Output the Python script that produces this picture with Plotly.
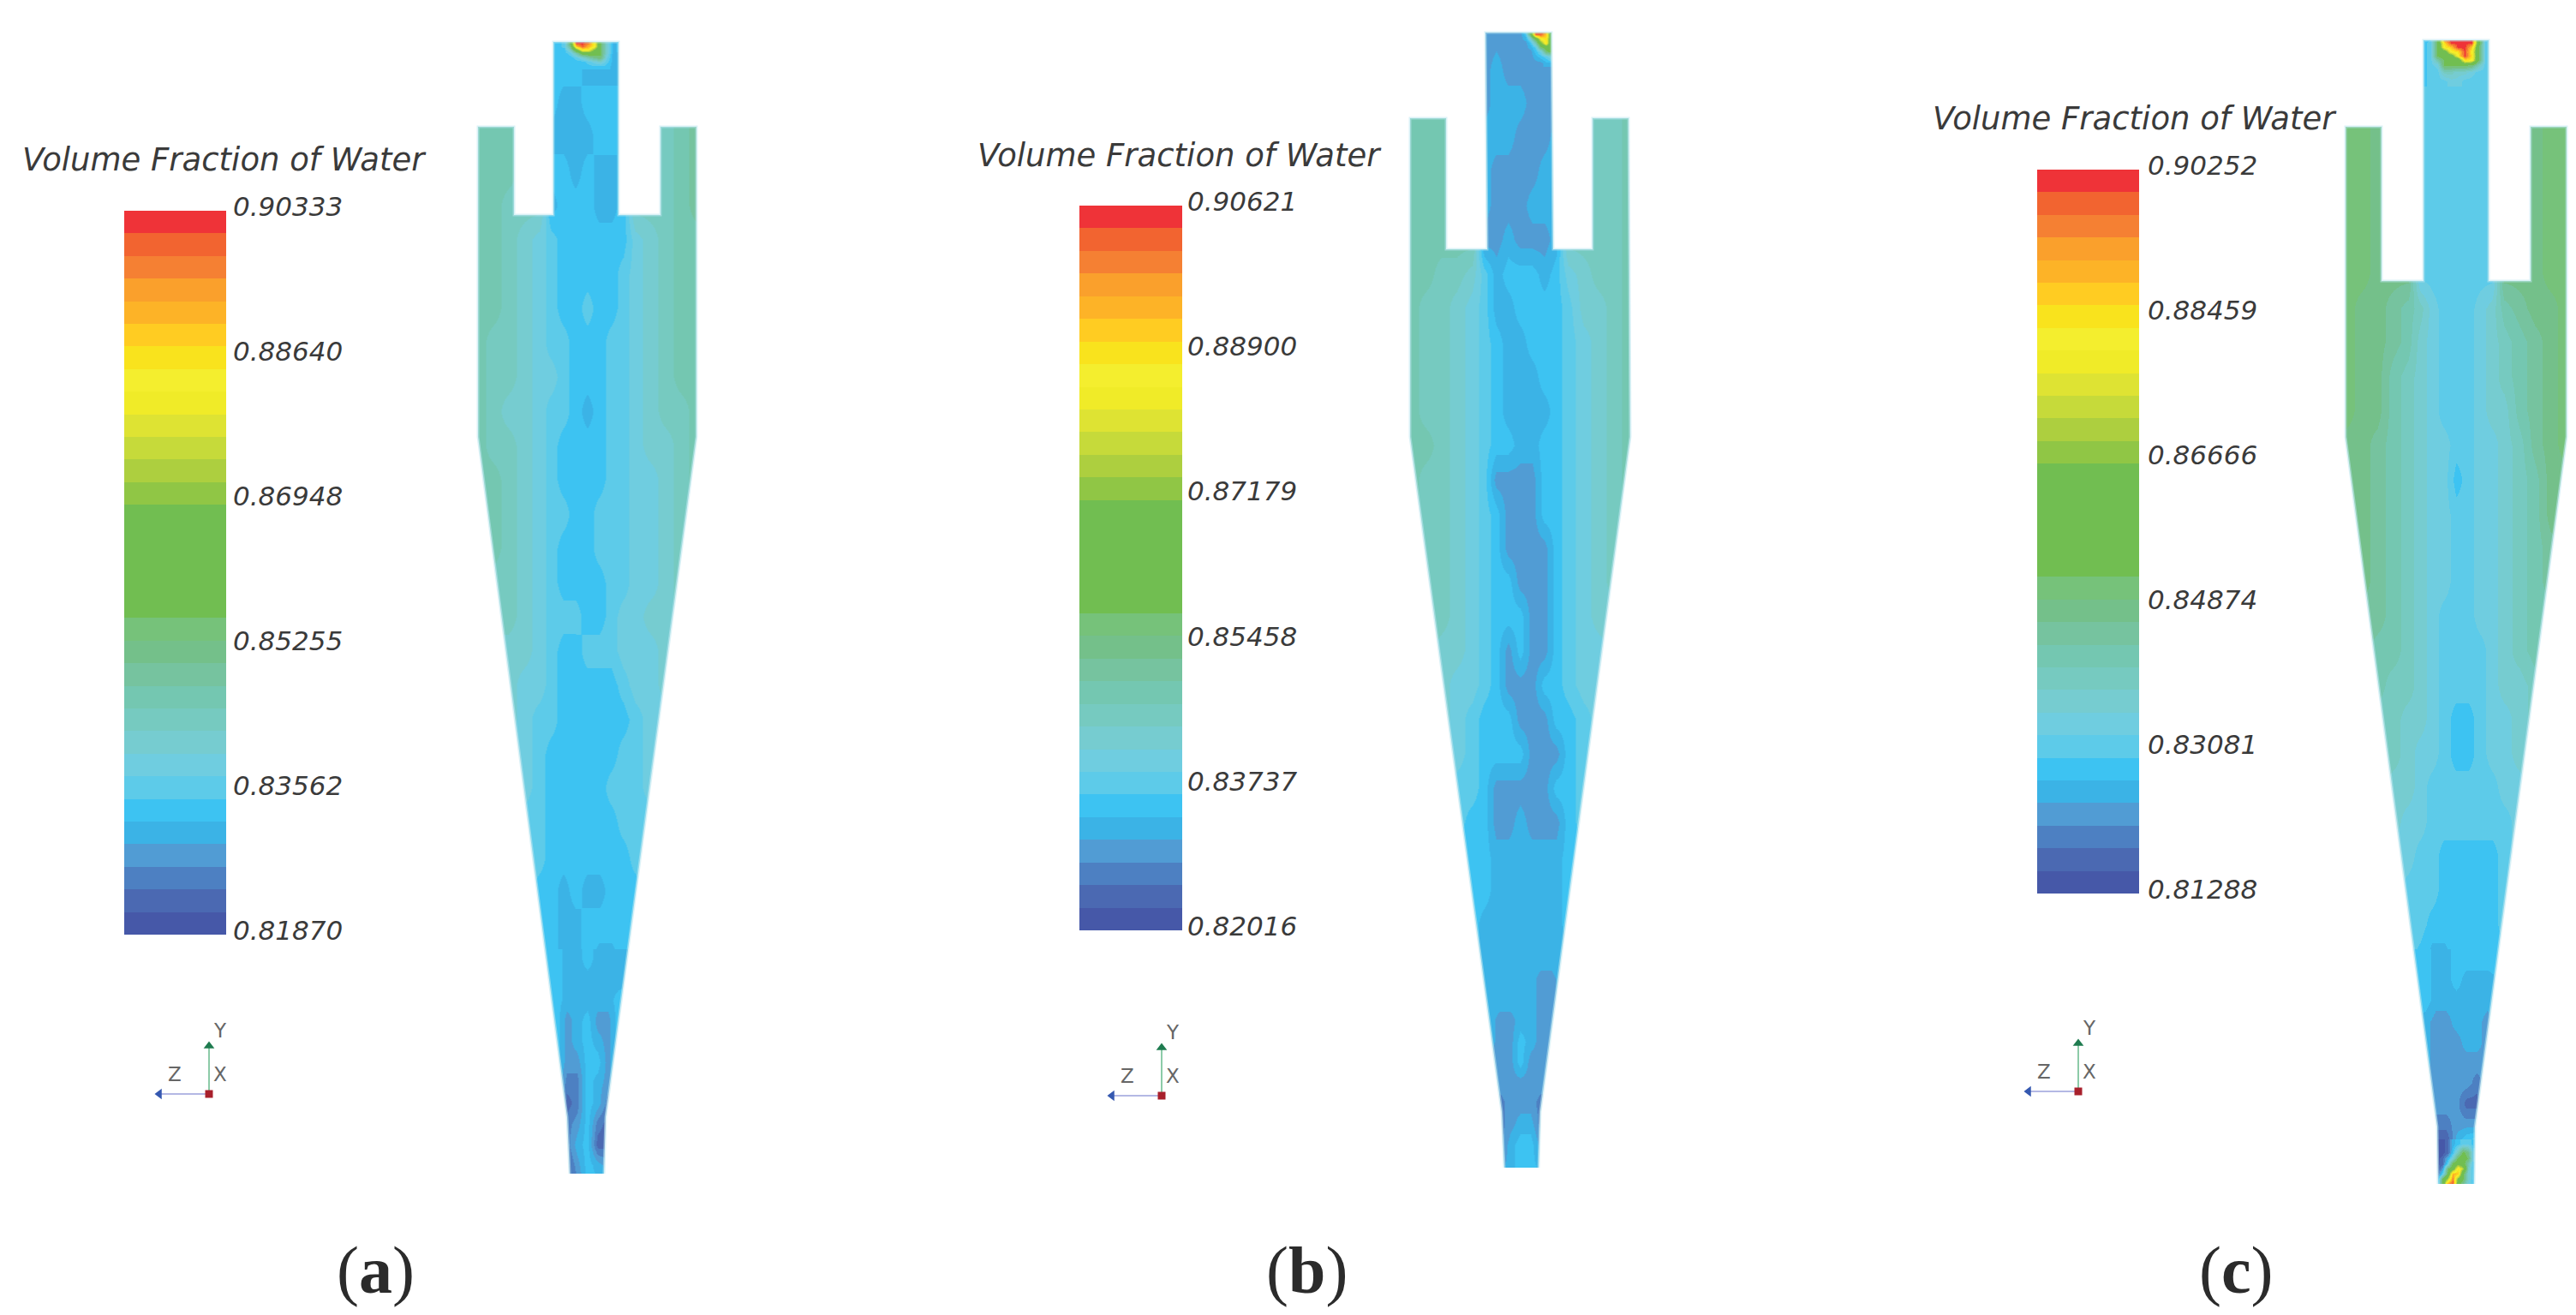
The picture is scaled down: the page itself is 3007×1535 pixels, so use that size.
import numpy as np
import plotly.graph_objects as go

W, H = 3007, 1535
N_BANDS = 32

BAND_COLORS = ["#4658A8", "#4B69B2", "#4D80C2", "#519CD4", "#3BB3E6", "#3DC3F2", "#5DCBE9", "#6FCDE0",
               "#76CCD0", "#76CAC0", "#74C7B1", "#76C39F", "#74C08A", "#76C27A", "#71BE51", "#71BE51",
               "#71BE51", "#71BE51", "#71BE51", "#90C645", "#ADCF3F", "#C6DA3A", "#DEE333", "#F0EB28",
               "#F4EE2E", "#F9E31D", "#FFCC22", "#FDB327", "#FAA02C", "#F58033", "#F26430", "#EF3338"]

TICKS_A = ["0.90333", "0.88640", "0.86948", "0.85255", "0.83562", "0.81870"]
TICKS_B = ["0.90621", "0.88900", "0.87179", "0.85458", "0.83737", "0.82016"]
TICKS_C = ["0.90252", "0.88459", "0.86666", "0.84874", "0.83081", "0.81288"]

COL_OFFSETS = [-128, -110, -92, -74, -56, -42, -28, -14, 0, 14, 28, 42, 56, 74, 92, 110, 128]
ROW_Y = [40, 80, 120, 160, 200, 240, 280, 320, 360, 400, 440, 480, 520, 560, 600, 640, 680, 720, 760, 800,
         840, 880, 920, 960, 1000, 1040, 1080, 1120]

# Contour band (0 = lowest, 31 = highest)
FIELD_A = [
    [10, 10, 10, 10, 10, 5, 5, 5, 5, 5, 5, 5, 9, 9, 9, 10, 11],
    [10, 10, 10, 10, 10, 5, 5, 5, 4, 4, 4, 4, 9, 9, 9, 10, 11],
    [10, 10, 10, 10, 10, 5, 4, 4, 5, 5, 5, 5, 9, 9, 9, 10, 11],
    [10, 10, 10, 10, 10, 4, 4, 4, 4, 5, 5, 4, 9, 9, 9, 10, 11],
    [10, 10, 10, 9, 9, 5, 5, 4, 5, 4, 4, 5, 9, 9, 9, 10, 11],
    [10, 10, 9, 9, 9, 4, 5, 5, 5, 4, 4, 5, 9, 9, 9, 10, 11],
    [10, 10, 9, 8, 7, 6, 5, 5, 5, 5, 5, 5, 7, 8, 9, 10, 10],
    [10, 10, 9, 8, 7, 6, 5, 5, 5, 5, 5, 6, 7, 8, 9, 10, 10],
    [10, 10, 9, 8, 7, 6, 5, 5, 6, 5, 5, 6, 7, 8, 9, 10, 10],
    [10, 9, 9, 8, 7, 6, 6, 5, 5, 5, 6, 6, 7, 8, 9, 10, 10],
    [10, 9, 9, 8, 7, 7, 6, 5, 5, 5, 6, 6, 7, 8, 9, 10, 10],
    [10, 9, 8, 8, 7, 6, 6, 5, 4, 5, 6, 6, 7, 8, 9, 9, 10],
    [10, 9, 9, 8, 7, 6, 5, 5, 5, 5, 6, 6, 7, 8, 8, 9, 10],
    [10, 10, 9, 8, 7, 6, 5, 5, 5, 5, 6, 6, 7, 7, 8, 9, 10],
    [10, 10, 9, 8, 7, 6, 6, 5, 5, 6, 6, 6, 7, 7, 8, 9, 10],
    [10, 10, 9, 8, 7, 6, 5, 5, 5, 6, 6, 6, 7, 7, 8, 9, 9],
    [9, 9, 9, 8, 7, 6, 5, 5, 5, 5, 6, 6, 7, 7, 8, 9, 9],
    [9, 9, 9, 8, 7, 6, 6, 6, 5, 5, 6, 7, 7, 8, 8, 9, 9],
    [8, 8, 8, 8, 7, 6, 5, 5, 6, 6, 6, 7, 7, 7, 8, 8, 8],
    [8, 8, 8, 7, 7, 6, 5, 5, 5, 5, 5, 6, 7, 7, 8, 8, 8],
    [8, 8, 8, 7, 6, 6, 5, 5, 5, 5, 5, 5, 6, 7, 7, 8, 8],
    [7, 7, 7, 7, 6, 5, 5, 5, 5, 5, 5, 6, 6, 7, 7, 7, 7],
    [7, 7, 7, 7, 6, 5, 5, 5, 5, 5, 6, 6, 6, 7, 7, 7, 7],
    [7, 7, 7, 6, 6, 5, 5, 5, 5, 5, 5, 6, 6, 6, 7, 7, 7],
    [6, 6, 6, 6, 6, 5, 5, 5, 5, 5, 5, 5, 6, 6, 6, 6, 6],
    [6, 6, 6, 6, 5, 5, 4, 5, 4, 4, 5, 5, 5, 6, 6, 6, 6],
    [5, 5, 5, 5, 5, 5, 4, 4, 5, 5, 5, 5, 5, 5, 5, 5, 5],
    [5, 5, 5, 5, 5, 5, 4, 4, 5, 4, 4, 5, 5, 5, 5, 5, 5],
]
FIELD_B = [
    [10, 10, 10, 10, 10, 3, 3, 3, 3, 3, 3, 3, 9, 9, 9, 9, 10],
    [10, 10, 10, 10, 10, 3, 4, 3, 3, 3, 3, 3, 9, 9, 9, 9, 10],
    [10, 10, 10, 10, 10, 3, 4, 4, 4, 3, 3, 3, 9, 9, 9, 9, 10],
    [10, 10, 10, 10, 10, 4, 4, 4, 3, 3, 3, 4, 9, 9, 9, 9, 10],
    [10, 10, 10, 10, 10, 4, 3, 3, 3, 3, 4, 4, 9, 9, 9, 9, 10],
    [10, 10, 10, 10, 10, 4, 3, 3, 3, 4, 4, 4, 9, 9, 9, 9, 10],
    [10, 10, 10, 10, 10, 3, 3, 4, 3, 3, 3, 4, 9, 9, 9, 9, 10],
    [10, 10, 9, 9, 8, 6, 4, 5, 5, 5, 4, 5, 7, 8, 9, 9, 10],
    [10, 9, 9, 8, 7, 6, 4, 4, 5, 5, 5, 5, 6, 8, 8, 9, 10],
    [10, 9, 9, 8, 7, 6, 5, 4, 4, 5, 5, 5, 6, 7, 8, 9, 10],
    [10, 9, 9, 8, 7, 6, 5, 4, 4, 4, 5, 5, 6, 7, 8, 9, 10],
    [10, 9, 9, 8, 7, 6, 5, 4, 4, 4, 4, 5, 6, 7, 8, 9, 10],
    [10, 10, 9, 8, 7, 6, 5, 5, 4, 4, 5, 5, 6, 7, 8, 9, 10],
    [10, 9, 9, 8, 7, 6, 3, 3, 3, 3, 5, 5, 6, 7, 8, 9, 10],
    [10, 9, 9, 8, 7, 6, 5, 3, 3, 3, 5, 5, 6, 7, 8, 9, 10],
    [10, 9, 9, 8, 7, 6, 5, 3, 3, 3, 3, 5, 6, 7, 8, 9, 10],
    [10, 9, 9, 8, 7, 6, 5, 5, 3, 3, 3, 5, 6, 7, 8, 9, 9],
    [9, 9, 9, 8, 7, 6, 5, 5, 5, 3, 3, 5, 6, 7, 8, 8, 9],
    [9, 9, 8, 8, 7, 6, 5, 3, 5, 3, 3, 5, 6, 7, 7, 8, 9],
    [8, 8, 8, 7, 7, 6, 5, 3, 3, 3, 5, 5, 6, 7, 7, 8, 8],
    [8, 8, 8, 7, 6, 5, 5, 5, 3, 3, 3, 5, 5, 6, 7, 8, 8],
    [7, 7, 7, 7, 6, 5, 5, 5, 5, 3, 3, 3, 5, 6, 7, 7, 7],
    [7, 7, 7, 6, 6, 5, 3, 3, 3, 3, 3, 5, 5, 6, 6, 7, 7],
    [6, 6, 6, 6, 5, 5, 3, 3, 4, 3, 3, 3, 5, 6, 6, 6, 6],
    [6, 6, 6, 5, 5, 5, 4, 4, 4, 4, 4, 4, 5, 5, 6, 6, 6],
    [6, 6, 5, 5, 5, 5, 4, 4, 4, 4, 4, 4, 5, 5, 6, 6, 6],
    [5, 5, 5, 5, 5, 4, 4, 4, 4, 4, 4, 4, 5, 5, 5, 5, 5],
    [5, 5, 5, 5, 5, 4, 4, 4, 4, 4, 4, 4, 4, 5, 5, 5, 5],
]
FIELD_C = [
    [13, 13, 12, 12, 12, 5, 6, 6, 6, 6, 6, 6, 11, 11, 12, 13, 13],
    [13, 13, 12, 12, 12, 5, 6, 6, 6, 6, 6, 6, 11, 11, 12, 13, 13],
    [13, 13, 12, 12, 12, 6, 6, 6, 6, 6, 6, 6, 11, 11, 12, 13, 13],
    [13, 13, 12, 12, 12, 6, 6, 6, 6, 6, 6, 6, 11, 11, 12, 13, 13],
    [13, 13, 12, 12, 12, 6, 6, 6, 6, 6, 6, 6, 11, 11, 12, 13, 13],
    [13, 13, 12, 12, 12, 6, 6, 6, 6, 6, 6, 6, 11, 11, 12, 13, 13],
    [13, 13, 12, 12, 12, 6, 6, 6, 6, 6, 6, 6, 11, 11, 12, 13, 13],
    [13, 13, 12, 12, 12, 6, 6, 6, 6, 6, 6, 6, 12, 12, 12, 13, 13],
    [13, 12, 12, 11, 10, 9, 7, 6, 6, 6, 7, 8, 10, 11, 12, 12, 13],
    [13, 12, 12, 11, 10, 8, 7, 6, 6, 6, 7, 8, 9, 10, 11, 12, 13],
    [13, 12, 12, 10, 9, 8, 7, 6, 6, 6, 7, 8, 9, 10, 11, 12, 13],
    [13, 12, 12, 10, 9, 8, 7, 6, 6, 6, 7, 8, 8, 10, 11, 12, 13],
    [12, 12, 11, 10, 9, 8, 7, 7, 6, 6, 7, 7, 8, 9, 11, 12, 13],
    [12, 12, 11, 10, 9, 8, 7, 7, 5, 6, 7, 7, 8, 9, 10, 12, 12],
    [12, 12, 11, 10, 9, 8, 7, 7, 6, 6, 7, 7, 8, 9, 10, 12, 12],
    [12, 12, 11, 10, 9, 8, 7, 7, 6, 6, 7, 7, 8, 9, 10, 11, 12],
    [12, 12, 11, 10, 9, 8, 7, 7, 6, 6, 7, 7, 8, 9, 10, 11, 11],
    [11, 11, 11, 10, 9, 8, 7, 6, 6, 6, 7, 7, 8, 9, 10, 10, 11],
    [11, 11, 10, 10, 9, 8, 7, 6, 6, 6, 6, 7, 8, 9, 10, 10, 10],
    [10, 10, 10, 9, 9, 8, 7, 6, 6, 6, 6, 7, 8, 8, 9, 10, 10],
    [10, 10, 9, 9, 8, 8, 7, 6, 5, 5, 6, 7, 7, 8, 9, 9, 9],
    [9, 9, 9, 9, 8, 7, 7, 6, 5, 5, 6, 7, 7, 8, 8, 9, 9],
    [9, 9, 9, 8, 8, 7, 6, 6, 6, 6, 6, 6, 7, 7, 8, 8, 8],
    [8, 8, 8, 8, 7, 7, 6, 6, 6, 6, 6, 6, 6, 7, 7, 8, 8],
    [8, 8, 7, 7, 7, 6, 6, 5, 5, 5, 5, 5, 6, 7, 7, 7, 7],
    [7, 7, 7, 7, 6, 6, 6, 5, 5, 5, 5, 5, 6, 6, 7, 7, 7],
    [6, 6, 6, 6, 6, 6, 5, 5, 5, 5, 5, 5, 6, 6, 6, 6, 6],
    [6, 6, 6, 6, 6, 5, 4, 4, 5, 5, 5, 5, 5, 6, 6, 6, 6],
]

# Finer samples for the cone tip of each cyclone
TIP_OFFSETS = [-60, -36, -24, -12, 0, 12, 24, 36, 60]
TIP_Y = [1120, 1144, 1168, 1192, 1216, 1240, 1264, 1288, 1312, 1336, 1360, 1390]
TIP_A = [
    [5, 5, 4, 4, 5, 4, 4, 4, 5], [5, 5, 4, 4, 4, 4, 4, 4, 5], [5, 5, 4, 4, 4, 4, 4, 5, 5],
    [5, 5, 3, 4, 5, 3, 3, 5, 5], [5, 5, 3, 4, 5, 4, 3, 5, 5], [5, 5, 3, 3, 5, 5, 3, 5, 5],
    [5, 5, 2, 2, 5, 4, 3, 5, 5], [5, 5, 1, 2, 5, 4, 2, 5, 5], [5, 5, 2, 3, 5, 2, 1, 5, 5],
    [5, 4, 2, 4, 5, 1, 1, 4, 5], [5, 4, 1, 3, 5, 4, 3, 4, 5], [5, 4, 1, 2, 5, 5, 4, 4, 5],
]
TIP_B = [
    [5, 4, 4, 4, 4, 4, 4, 4, 5], [5, 4, 4, 4, 4, 4, 3, 3, 5], [5, 4, 4, 4, 4, 4, 3, 3, 5],
    [4, 4, 3, 3, 4, 4, 3, 3, 4], [4, 4, 3, 3, 5, 4, 3, 3, 4], [4, 3, 3, 3, 5, 3, 3, 3, 4],
    [3, 3, 3, 3, 3, 3, 3, 3, 3], [2, 2, 2, 3, 3, 3, 2, 2, 2], [1, 1, 2, 3, 4, 4, 2, 1, 1],
    [1, 1, 2, 4, 5, 5, 3, 2, 1], [1, 1, 3, 4, 5, 5, 4, 2, 1], [1, 1, 3, 4, 5, 5, 4, 2, 1],
]
TIP_C = [
    [5, 5, 4, 4, 5, 5, 5, 5, 5], [5, 5, 4, 4, 5, 4, 4, 4, 5], [5, 5, 4, 4, 4, 4, 4, 4, 5],
    [5, 4, 3, 3, 4, 4, 4, 3, 4], [5, 4, 3, 3, 3, 4, 4, 3, 4], [4, 4, 3, 3, 3, 3, 3, 3, 4],
    [3, 3, 3, 3, 3, 3, 2, 3, 3], [3, 3, 3, 3, 3, 1, 1, 3, 3], [2, 2, 2, 2, 3, 3, 3, 2, 2],
    [2, 2, 0, 0, 4, 6, 7, 4, 3], [2, 2, 1, 1, 5, 6, 6, 4, 3], [2, 2, 1, 1, 5, 6, 6, 4, 3],
]

# Hot spots
HOT_A_X = [-35, -27, -20, -13, -6, 1, 8, 15, 22, 30]
HOT_A_Y = [46, 50, 54, 58, 62, 67, 72, 78]
HOT_A = [
    [5, 6, 14, 31, 31, 31, 26, 14, 8, 5], [5, 6, 14, 31, 31, 29, 24, 14, 8, 4],
    [5, 6, 12, 26, 30, 27, 24, 14, 8, 4], [5, 5, 9, 17, 24, 24, 18, 14, 8, 4],
    [5, 5, 6, 10, 15, 16, 15, 14, 8, 4], [5, 5, 5, 6, 8, 10, 12, 13, 7, 4],
    [5, 5, 5, 5, 5, 6, 7, 8, 6, 4], [5, 5, 5, 5, 5, 5, 5, 5, 5, 4],
]
HOT_B_X = [0, 6, 12, 18, 24, 30, 36, 42]
HOT_B_Y = [34, 40, 45, 50, 55, 60, 66, 74]
HOT_B = [
    [3, 8, 18, 31, 31, 28, 14, 14], [3, 5, 14, 30, 30, 26, 14, 14], [3, 4, 8, 15, 24, 25, 14, 14],
    [3, 3, 5, 10, 18, 25, 14, 14], [3, 3, 4, 6, 13, 15, 14, 14], [3, 3, 3, 5, 7, 13, 14, 14],
    [3, 3, 3, 4, 5, 6, 8, 8], [3, 3, 3, 3, 3, 4, 4, 4],
]
HOT_C_X = [-38, -30, -22, -14, -6, 2, 10, 18, 26, 34]
HOT_C_Y = [44, 50, 55, 60, 65, 70, 76, 84, 95]
HOT_C = [
    [5, 5, 14, 31, 31, 31, 31, 31, 16, 6], [5, 6, 14, 25, 31, 31, 31, 31, 15, 6],
    [5, 6, 14, 24, 26, 31, 31, 26, 14, 6], [5, 6, 14, 16, 24, 25, 31, 24, 14, 6],
    [5, 6, 14, 15, 16, 24, 31, 25, 14, 6], [5, 6, 10, 14, 14, 14, 25, 24, 14, 6],
    [5, 6, 7, 14, 14, 14, 14, 13, 9, 6], [5, 6, 6, 9, 9, 8, 8, 7, 6, 6],
    [5, 6, 6, 6, 7, 7, 6, 6, 6, 6],
]
HOT_C2_X = [-22, -16, -10, -4, 2, 8, 14, 20]
HOT_C2_Y = [1335, 1345, 1352, 1358, 1364, 1370, 1376, 1384]
HOT_C2 = [
    [0, 0, 1, 4, 5, 6, 6, 5], [0, 0, 1, 5, 9, 14, 12, 6], [0, 1, 4, 8, 14, 16, 13, 6],
    [0, 1, 6, 14, 17, 15, 10, 5], [0, 3, 13, 16, 25, 20, 9, 5], [1, 6, 14, 27, 26, 14, 8, 5],
    [3, 14, 20, 29, 18, 14, 8, 5], [5, 14, 31, 31, 14, 10, 7, 5],
]

# Cyclone outlines: one side each, from the top of the vortex finder to the apex
LEFT_A = [(646, 49), (646, 251), (600, 251), (600, 148), (558, 148), (558, 510), (662, 1304), (665, 1370)]
RIGHT_A = [(722, 49), (722, 251), (771, 251), (771, 148), (813, 148), (813, 510), (707, 1304), (705, 1370)]
LEFT_B = [(1734, 38), (1736, 291), (1688, 291), (1688, 138), (1646, 138), (1646, 510), (1753, 1298), (1756, 1363)]
RIGHT_B = [(1811, 38), (1813, 291), (1859, 291), (1859, 138), (1901, 138), (1903, 510), (1798, 1298), (1796, 1363)]
LEFT_C = [(2829, 47), (2829, 328), (2780, 328), (2780, 148), (2738, 148), (2738, 510), (2845, 1315), (2846, 1382)]
RIGHT_C = [(2905, 47), (2905, 328), (2954, 328), (2954, 148), (2996, 148), (2996, 510), (2889, 1315), (2888, 1382)]

CENTERS = [685.5, 1774.5, 2867]
VALUE_MIN = [0.81870, 0.82016, 0.81288]
VALUE_MAX = [0.90333, 0.90621, 0.90252]
BAR_X = [(145, 264), (1260, 1380), (2378, 2497)]
BAR_Y = [(246, 1091), (240, 1086), (198, 1043)]
TICK_X = [270, 1384, 2505]
TITLE_X = [262, 1377, 2492]
TITLE_Y = [186, 181, 138]
TRIAD_X = [244, 1356, 2426]
TRIAD_Y = [1277, 1279, 1274]
CAPTION_X = [438, 1525, 2610]
CAPTION_Y = 1482
CAPTIONS = ["a", "b", "c"]

GROUPS = [
    (FIELD_A, TIP_A, [(HOT_A_X, HOT_A_Y, HOT_A)], LEFT_A, RIGHT_A, TICKS_A),
    (FIELD_B, TIP_B, [(HOT_B_X, HOT_B_Y, HOT_B)], LEFT_B, RIGHT_B, TICKS_B),
    (FIELD_C, TIP_C, [(HOT_C_X, HOT_C_Y, HOT_C), (HOT_C2_X, HOT_C2_Y, HOT_C2)], LEFT_C, RIGHT_C, TICKS_C),
]

stops = []
for i, col in enumerate(BAND_COLORS):
    stops += [[i / N_BANDS, col], [(i + 1) / N_BANDS, col]]

fig = go.Figure()
layout_extra = {}
annotations = []
TEXT_COLOR = "#3a3a3a"
TICK_FONT = dict(family="DejaVu Sans", size=31, color=TEXT_COLOR, style="italic")
TITLE_FONT = dict(family="DejaVu Sans", size=37, color=TEXT_COLOR, style="italic")


def to_value(bands, lo, hi):
    return lo + (np.asarray(bands, dtype=float) + 0.5) * (hi - lo) / N_BANDS


for p, (field, tip, hots, left, right, ticks) in enumerate(GROUPS):
    cx, lo, hi = CENTERS[p], VALUE_MIN[p], VALUE_MAX[p]
    axis = "coloraxis" if p == 0 else f"coloraxis{p + 1}"
    xa, xb = BAR_X[p]
    ya, yb = BAR_Y[p]
    layout_extra[axis] = dict(
        cmin=lo, cmax=hi, colorscale=stops,
        colorbar=dict(x=xa / W, xanchor="left", xpad=0, ypad=0, y=1 - ya / H, yanchor="top",
                      lenmode="pixels", len=yb - ya, thicknessmode="pixels", thickness=xb - xa,
                      outlinewidth=0, borderwidth=0, ticks="", showticklabels=False),
    )
    fig.add_trace(go.Heatmap(x=[cx + o for o in COL_OFFSETS], y=ROW_Y, z=to_value(field, lo, hi),
                             coloraxis=axis, zsmooth="best", hoverinfo="skip"))
    fig.add_trace(go.Heatmap(x=[cx + o for o in TIP_OFFSETS], y=TIP_Y, z=to_value(tip, lo, hi),
                             coloraxis=axis, zsmooth="best", hoverinfo="skip"))
    for hx, hy, hz in hots:
        fig.add_trace(go.Heatmap(x=[cx + o for o in hx], y=hy, z=to_value(hz, lo, hi),
                                 coloraxis=axis, zsmooth="best", hoverinfo="skip"))
    x0, x1 = cx - 165, min(cx + 165, W)
    y0, y1 = 0, 1430
    lx, ly = zip(*left)
    rx, ry = zip(*right)
    top_mid = (lx[0] + rx[0]) / 2
    bot_mid = (lx[-1] + rx[-1]) / 2
    # The two white masks overlap by a few pixels above and below the section
    fig.add_trace(go.Scatter(x=[x0, top_mid + 4, top_mid + 4, *lx, bot_mid + 4, bot_mid + 4, x0],
                             y=[y0, y0, ly[0], *ly, ly[-1], y1, y1],
                             fill="toself", fillcolor="white", mode="none", hoverinfo="skip"))
    fig.add_trace(go.Scatter(x=[x1, top_mid - 4, top_mid - 4, *rx, bot_mid - 4, bot_mid - 4, x1],
                             y=[y0, y0, ry[0], *ry, ry[-1], y1, y1],
                             fill="toself", fillcolor="white", mode="none", hoverinfo="skip"))
    # Pale soft rim along the section edge
    fig.add_trace(go.Scatter(x=list(lx[::-1]) + list(rx), y=list(ly[::-1]) + list(ry), mode="lines",
                             line=dict(color="rgba(190,232,240,0.55)", width=3), hoverinfo="skip"))

    for i, t in enumerate(ticks):
        annotations.append(dict(x=TICK_X[p], y=ya - 5 + i * (yb - ya) / 5, text=t, xref="x", yref="y",
                                xanchor="left", yanchor="middle", showarrow=False, font=TICK_FONT))
    annotations.append(dict(x=TITLE_X[p], y=TITLE_Y[p], text="Volume Fraction of Water", xref="x", yref="y",
                            xanchor="center", yanchor="middle", showarrow=False, font=TITLE_FONT))
    annotations.append(dict(x=CAPTION_X[p], y=CAPTION_Y, text=f"(<b>{CAPTIONS[p]}</b>)", xref="x", yref="y",
                            xanchor="center", yanchor="middle", showarrow=False,
                            font=dict(family="Liberation Serif", size=78, color="#2b2b2b")))

    # Orientation triad
    ox, oy = TRIAD_X[p], TRIAD_Y[p]
    fig.add_trace(go.Scatter(x=[ox, ox], y=[oy, oy - 54], mode="lines", line=dict(color="#8CCBA8", width=2),
                             hoverinfo="skip"))
    fig.add_trace(go.Scatter(x=[ox, ox - 56], y=[oy, oy], mode="lines", line=dict(color="#B4B8E4", width=2),
                             hoverinfo="skip"))
    fig.add_trace(go.Scatter(x=[ox], y=[oy - 56], mode="markers", hoverinfo="skip",
                             marker=dict(symbol="triangle-up", size=11, color="#1E7B4F")))
    fig.add_trace(go.Scatter(x=[ox - 58], y=[oy], mode="markers", hoverinfo="skip",
                             marker=dict(symbol="triangle-left", size=11, color="#3558B0")))
    fig.add_trace(go.Scatter(x=[ox], y=[oy], mode="markers", hoverinfo="skip",
                             marker=dict(symbol="square", size=9, color="#A8202C")))
    for lab, dx, dy in (("Y", 13, -74), ("Z", -40, -23), ("X", 13, -23)):
        annotations.append(dict(x=ox + dx, y=oy + dy, text=lab, xref="x", yref="y", showarrow=False,
                                xanchor="center", yanchor="middle",
                                font=dict(family="DejaVu Sans", size=23, color="#666666")))

fig.update_layout(
    width=W, height=H, showlegend=False, paper_bgcolor="white", plot_bgcolor="white",
    margin=dict(l=0, r=0, t=0, b=0, autoexpand=False),
    xaxis=dict(range=[0, W], visible=False, domain=[0, 1], fixedrange=True),
    yaxis=dict(range=[H, 0], visible=False, domain=[0, 1], fixedrange=True),
    annotations=annotations, **layout_extra,
)
fig.write_html("out.html", config=dict(displayModeBar=False),
               post_script="document.body.style.margin='0';document.body.style.overflow='hidden';")
